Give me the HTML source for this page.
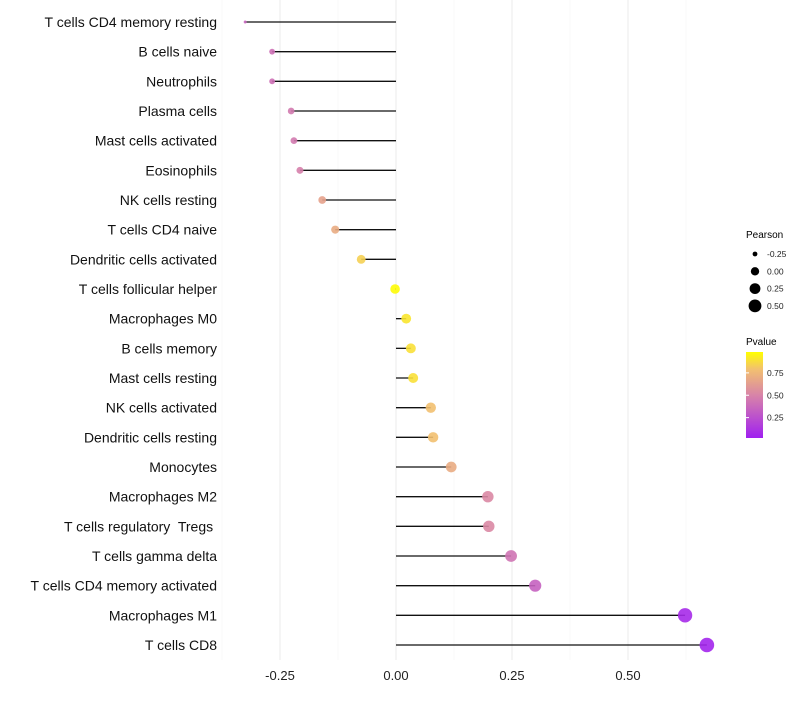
<!DOCTYPE html>
<html><head><meta charset="utf-8"><style>
body{margin:0;background:#fff}
svg{font-family:"Liberation Sans",sans-serif}
text{white-space:pre}
</style></head><body>
<svg width="800" height="700">
<defs><linearGradient id="pg" x1="0" y1="1" x2="0" y2="0">
<stop offset="0" stop-color="#a020f0"/><stop offset="0.5" stop-color="#d884a8"/><stop offset="0.8" stop-color="#f2c070"/><stop offset="1" stop-color="#ffff00"/>
</linearGradient></defs>
<g id="grid"></g>
<g id="marks"></g>
<g id="ylabels"></g>
<g id="xlabels"></g>
<g>
<text x="746" y="238" font-size="10">Pearson</text>
<g id="sizeleg"></g>
</g>
<g>
<text x="746" y="345" font-size="10">Pvalue</text>
<rect x="746" y="352" width="17" height="86" fill="url(#pg)"/>
<g id="colleg"></g>
</g>
</svg>
<script>
const cells=["T cells CD4 memory resting","B cells naive","Neutrophils","Plasma cells","Mast cells activated","Eosinophils","NK cells resting","T cells CD4 naive","Dendritic cells activated","T cells follicular helper","Macrophages M0","B cells memory","Mast cells resting","NK cells activated","Dendritic cells resting","Monocytes","Macrophages M2","T cells regulatory  Tregs ","T cells gamma delta","T cells CD4 memory activated","Macrophages M1","T cells CD8"];
const pearson=[-0.325,-0.267,-0.267,-0.226,-0.22,-0.207,-0.159,-0.131,-0.075,-0.002,0.022,0.032,0.037,0.075,0.08,0.119,0.198,0.2,0.248,0.3,0.623,0.67];
const pvalue=[0.35,0.4,0.4,0.45,0.45,0.48,0.65,0.7,0.85,0.99,0.92,0.9,0.9,0.8,0.8,0.7,0.52,0.52,0.42,0.33,0.05,0.03];
const xTicks=[-0.25,0,0.25,0.5];
const xTickLabels=["-0.25","0.00","0.25","0.50"];
const sizeBreaks=[-0.25,0,0.25,0.5];
const sizeLabels=["-0.25","0.00","0.25","0.50"];
const colBreaks=[0.25,0.5,0.75];
const colLabels=["0.25","0.50","0.75"];
const NS="http://www.w3.org/2000/svg";
const X=v=>396+v*464;
const Y=i=>22+i*(623/21);
const pmin=Math.min(...pearson),pmax=Math.max(...pearson);
const R=v=>1.5+5.8*Math.sqrt(Math.max(0,(v-pmin)/(pmax-pmin)));
const RL=v=>Math.sqrt(2.25+(v-pmin)/(pmax-pmin)*(49-2.25));
const stops=[[0,[160,32,240]],[0.5,[216,132,168]],[0.8,[242,192,112]],[1,[255,255,0]]];
function col(p){for(let k=1;k<stops.length;k++){if(p<=stops[k][0]){const a=stops[k-1],b=stops[k],t=(p-a[0])/(b[0]-a[0]);return "rgb("+a[1].map((c,j)=>Math.round(c+(b[1][j]-c)*t)).join(",")+")";}}return "rgb(255,255,0)";}
function mk(t,a,parent){const e=document.createElementNS(NS,t);for(const k in a)e.setAttribute(k,a[k]);parent.appendChild(e);return e;}
const grid=document.getElementById('grid'),marks=document.getElementById('marks'),yl=document.getElementById('ylabels'),xl=document.getElementById('xlabels');
for(let v=-0.375;v<=0.63;v+=0.125){const major=Math.abs((v/0.25)-Math.round(v/0.25))<1e-6;const l=mk('line',{x1:X(v),x2:X(v),y1:0,y2:660,stroke:major?'#ebebeb':'#f4f4f4','stroke-width':major?1:0.6},grid);}
xTicks.forEach((v,i)=>{const t=mk('text',{x:X(v),y:680,'font-size':13,'text-anchor':'middle',fill:'#222'},xl);t.textContent=xTickLabels[i];});
cells.forEach((c,i)=>{
const t=mk('text',{x:217,y:Y(i)+5,'font-size':14,'text-anchor':'end',fill:'#111'},yl);t.textContent=c;
const l=mk('line',{x1:X(0),x2:X(pearson[i]),y1:Y(i),y2:Y(i),stroke:'#111','stroke-width':1.3},marks);
const d=mk('circle',{cx:X(pearson[i]),cy:Y(i),r:R(pearson[i]),fill:col(pvalue[i]),'fill-opacity':0.9},marks);
});
const sl=document.getElementById('sizeleg');
sizeBreaks.forEach((v,i)=>{const y=254+i*17.3;const c=mk('circle',{cx:755,cy:y,r:RL(v),fill:'#000'},sl);const t=mk('text',{x:767,y:y+3,'font-size':8.5,fill:'#222'},sl);t.textContent=sizeLabels[i];});
const cl=document.getElementById('colleg');
colBreaks.forEach((v,i)=>{const y=440-v*89.5;const t=mk('text',{x:767,y:y+3,'font-size':8.5,fill:'#222'},cl);t.textContent=colLabels[i];const l=mk('line',{x1:746,x2:749,y1:y,y2:y,stroke:'#fff'},cl);});
</script>
</body></html>
